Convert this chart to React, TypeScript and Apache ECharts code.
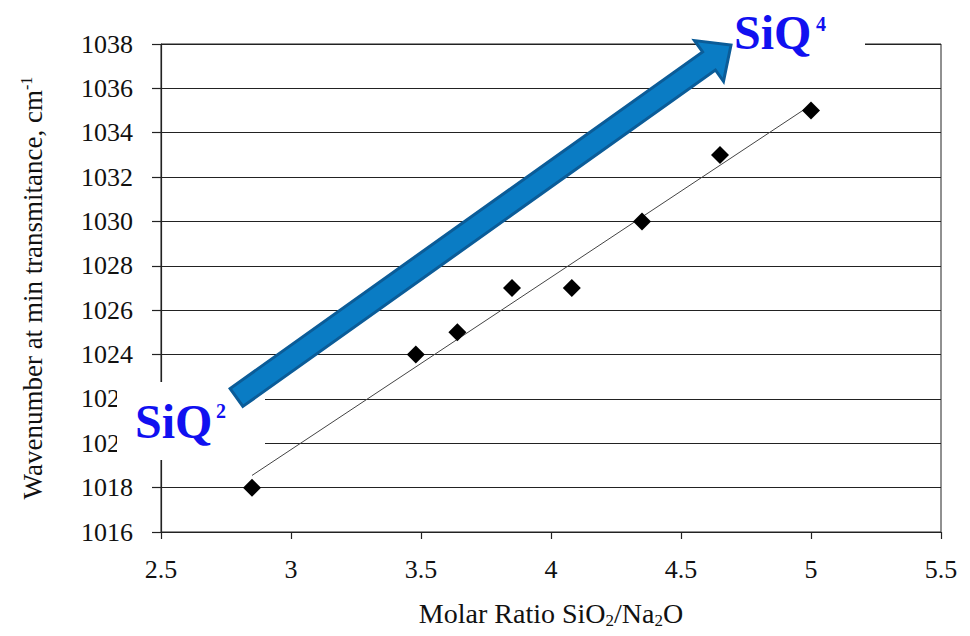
import React, { useEffect, useRef } from 'react';
import * as echarts from 'echarts';

const ratio = [2.85, 3.48, 3.64, 3.85, 4.08, 4.35, 4.65, 5.0];
const wavenumber = [1018, 1024, 1025, 1027, 1027, 1030, 1033, 1035];
const trendX = [2.85, 5.0];
const trendY = [1018.55, 1035.25];
const xMin = 2.5, xMax = 5.5, xStep = 0.5;
const yMin = 1016, yMax = 1038, yStep = 2;
const xTitle = ['Molar Ratio SiO', '2', '/Na', '2', 'O'];
const yTitle = ['Wavenumber at min transmitance, cm', '-1'];
const lowLabel = ['SiQ', '2'];
const highLabel = ['SiQ', '4'];

const SERIF = 'Liberation Serif, Times New Roman, serif';

export default function App() {
  const ref = useRef<HTMLDivElement>(null);
  useEffect(() => {
    if (!ref.current) return;
    const chart = echarts.init(ref.current, undefined, { renderer: 'svg' });
    const arrowFill = '#0a7cc4';
    const arrowStroke = '#0b5c98';
    const labelBlue = '#1010f0';
    chart.setOption({
      animation: false,
      backgroundColor: '#ffffff',
      textStyle: { fontFamily: SERIF },
      grid: {
        left: 161, right: 29, top: 44, bottom: 104,
        show: true, borderColor: '#222', borderWidth: 1, backgroundColor: 'transparent',
      },
      xAxis: {
        type: 'value', min: xMin, max: xMax, interval: xStep,
        name: `{m|${xTitle[0]}}{s|${xTitle[1]}}{m|${xTitle[2]}}{s|${xTitle[3]}}{m|${xTitle[4]}}`,
        nameLocation: 'middle', nameGap: 64,
        nameTextStyle: {
          fontFamily: SERIF,
          rich: {
            m: { fontFamily: SERIF, fontSize: 28, color: '#111', lineHeight: 34 },
            s: { fontFamily: SERIF, fontSize: 17, color: '#111', padding: [14, 0, 0, 0], lineHeight: 34 },
          },
        },
        axisLine: { show: true, onZero: false, lineStyle: { color: '#222', width: 1.2 } },
        axisTick: { show: true, inside: false, length: 7, lineStyle: { color: '#222', width: 1.2 } },
        axisLabel: { fontFamily: SERIF, fontSize: 26, color: '#111', margin: 24, formatter: (v: number) => String(v) },
        splitLine: { show: false },
      },
      yAxis: {
        type: 'value', min: yMin, max: yMax, interval: yStep,
        name: `{m|${yTitle[0]}}{s|${yTitle[1]}}`,
        nameLocation: 'middle', nameGap: 112, nameRotate: 90,
        nameTextStyle: {
          fontFamily: SERIF,
          rich: {
            m: { fontFamily: SERIF, fontSize: 27, color: '#111', lineHeight: 32 },
            s: { fontFamily: SERIF, fontSize: 16, color: '#111', padding: [0, 0, 14, 0], lineHeight: 32 },
          },
        },
        axisLine: { show: true, onZero: false, lineStyle: { color: '#222', width: 1.2 } },
        axisTick: { show: true, inside: false, length: 9, lineStyle: { color: '#222', width: 1.2 } },
        axisLabel: { fontFamily: SERIF, fontSize: 26, color: '#111', margin: 28, formatter: (v: number) => String(v) },
        splitLine: { show: true, lineStyle: { color: '#222', width: 1.2 } },
      },
      series: [
        {
          type: 'line',
          data: trendX.map((x, i) => [x, trendY[i]]),
          showSymbol: false,
          symbol: 'none',
          lineStyle: { color: '#444', width: 1 },
          z: 3,
        },
        {
          type: 'scatter',
          data: ratio.map((x, i) => [x, wavenumber[i]]),
          symbol: 'diamond',
          symbolSize: 18,
          itemStyle: { color: '#000', opacity: 1 },
          z: 4,
        },
      ],
      graphic: [
        { type: 'rect', z: 100, shape: { x: 117, y: 382, width: 148, height: 78 }, style: { fill: '#fff' } },
        { type: 'rect', z: 100, shape: { x: 726, y: 4, width: 139, height: 54 }, style: { fill: '#fff' } },
        {
          type: 'polygon', z: 101,
          shape: {
            points: [
              [242.9, 406.4], [715.4, 70.0], [723.5, 81.4], [731, 45],
              [694.5, 40.6], [702.6, 52.0], [230.1, 388.5],
            ],
          },
          style: { fill: arrowFill, stroke: arrowStroke, lineWidth: 3, lineJoin: 'miter' },
        },
        {
          type: 'text', z: 102, x: 135, y: 397,
          style: { text: lowLabel[0], font: `bold 48px ${SERIF}`, fill: labelBlue, textAlign: 'left', textVerticalAlign: 'top' },
        },
        {
          type: 'text', z: 102, x: 216, y: 401,
          style: { text: lowLabel[1], font: `bold 20px ${SERIF}`, fill: labelBlue, textAlign: 'left', textVerticalAlign: 'top' },
        },
        {
          type: 'text', z: 102, x: 734, y: 8,
          style: { text: highLabel[0], font: `bold 48px ${SERIF}`, fill: labelBlue, textAlign: 'left', textVerticalAlign: 'top' },
        },
        {
          type: 'text', z: 102, x: 816, y: 14,
          style: { text: highLabel[1], font: `bold 20px ${SERIF}`, fill: labelBlue, textAlign: 'left', textVerticalAlign: 'top' },
        },
      ],
    });
    return () => chart.dispose();
  }, []);
  return <div ref={ref} style={{ position: 'absolute', left: 0, top: 0, width: 970, height: 636 }} />;
}
